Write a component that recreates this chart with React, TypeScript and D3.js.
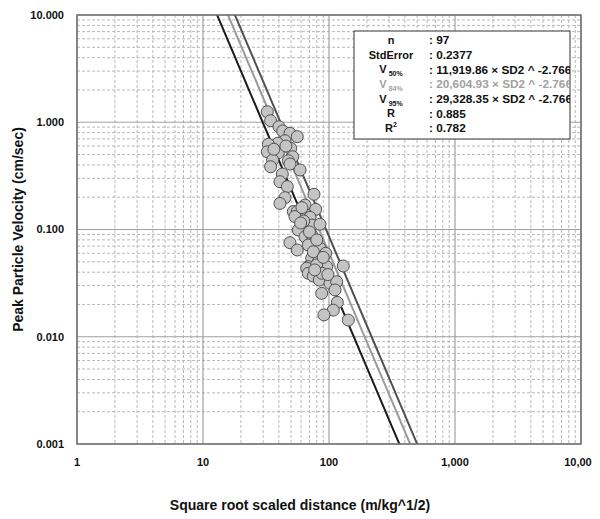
import React from "react";
import * as d3 from "d3";

const sdValues = [32.4, 34.4, 40.1, 42.9, 49.0, 56.0, 44.7, 39.2, 33.0, 49.7, 32.4, 39.6, 51.5, 35.7, 47.5, 49.0, 34.4, 58.9, 42.6, 40.8, 46.7, 44.7, 40.8, 76.0, 64.5, 78.4, 52.1, 56.0, 66.5, 53.7, 70.7, 72.9, 84.8, 57.1, 64.5, 72.9, 49.0, 77.4, 68.5, 56.0, 84.8, 94.2, 72.9, 82.2, 68.5, 95.9, 129.8, 75.0, 66.5, 79.8, 68.5, 75.0, 83.8, 87.5, 101.9, 115.1, 111.6, 87.5, 116.4, 108.2, 91.2, 142.3, 45.5, 61.0, 70.0, 80.0, 90.0, 63.0, 77.0, 98.0, 36.5, 59.5];
const ppvValues = [1.254, 1.034, 0.909, 0.829, 0.789, 0.733, 0.673, 0.637, 0.623, 0.571, 0.531, 0.520, 0.477, 0.445, 0.438, 0.408, 0.385, 0.359, 0.329, 0.279, 0.251, 0.198, 0.175, 0.213, 0.169, 0.154, 0.147, 0.147, 0.136, 0.132, 0.130, 0.110, 0.112, 0.0989, 0.0857, 0.0889, 0.0754, 0.0769, 0.0717, 0.0644, 0.0668, 0.0600, 0.0539, 0.0501, 0.0450, 0.0450, 0.0457, 0.0621, 0.0435, 0.0467, 0.0391, 0.0368, 0.0338, 0.0391, 0.0315, 0.0326, 0.0273, 0.0254, 0.0209, 0.0177, 0.0160, 0.0143, 0.600, 0.160, 0.095, 0.080, 0.055, 0.120, 0.042, 0.038, 0.560, 0.115];

const lineNames = ["V50", "V84", "V95"];
const lineCoefs = [11919.86, 20604.93, 29328.35];
const lineExponent = -2.766;
const lineColors = ["#1a1a1a", "#9a9a9a", "#505050"];

const xTicks = [1, 10, 100, 1000, 10000];
const xTickLabels = ["1", "10", "100", "1,000", "10,000"];
const yTicks = [0.001, 0.01, 0.1, 1, 10];
const yTickLabels = ["0.001", "0.010", "0.100", "1.000", "10.000"];

const statLabels = ["n", "StdError", "V", "V", "V", "R", "R"];
const statSubs = ["", "", "50%", "84%", "95%", "", ""];
const statSups = ["", "", "", "", "", "", "2"];
const statValues = [": 97", ": 0.2377", ": 11,919.86 × SD2 ^ -2.766", ": 20,604.93 × SD2 ^ -2.766", ": 29,328.35 × SD2 ^ -2.766", ": 0.885", ": 0.782"];
const statColors = ["#111", "#111", "#111", "#a0a0a0", "#111", "#111", "#111"];

const FONT = "'Liberation Sans', Arial, sans-serif";

export default function App() {
  const W = 600, H = 519;
  const L = 77, R = 581, T = 15, B = 444;
  const x = d3.scaleLog().domain([1, 10000]).range([L, R]);
  const y = d3.scaleLog().domain([0.001, 10]).range([B, T]);

  const minorX: number[] = [];
  for (let d = 1; d < 10000; d *= 10) for (let k = 2; k <= 9; k++) minorX.push(d * k);
  const minorY: number[] = [];
  for (let d = 0.001; d < 9; d *= 10) for (let k = 2; k <= 9; k++) minorY.push(d * k);

  const sdSamples = d3.range(0, 101).map((i) => Math.pow(10, (i / 100) * 4));

  const points = sdValues.map((s, i) => ({ s, v: ppvValues[i] }));

  const legX = 354, legY = 31, legW = 216, legH = 108;
  const rowY0 = 40, rowStep = 14.7;

  return (
    <svg width={W} height={H} style={{ display: "block", margin: "-8px 0 0 -8px", fontFamily: FONT }}>
      <defs>
        <clipPath id="plotClip">
          <rect x={L} y={T} width={R - L} height={B - T} />
        </clipPath>
        <clipPath id="legClip">
          <rect x={legX} y={legY} width={legW} height={legH} />
        </clipPath>
      </defs>
      <rect x={0} y={0} width={W} height={H} fill="#fff" />
      {minorX.map((v, i) => (
        <line key={"mx" + i} x1={x(v)} x2={x(v)} y1={T} y2={B} stroke="#b8b8b8" strokeWidth={1} strokeDasharray="3,2" />
      ))}
      {minorY.map((v, i) => (
        <line key={"my" + i} x1={L} x2={R} y1={y(v)} y2={y(v)} stroke="#b8b8b8" strokeWidth={1} strokeDasharray="3,2" />
      ))}
      {xTicks.map((v, i) => (
        <line key={"gx" + i} x1={x(v)} x2={x(v)} y1={T} y2={B} stroke="#a0a0a0" strokeWidth={1.2} />
      ))}
      {yTicks.map((v, i) => (
        <line key={"gy" + i} x1={L} x2={R} y1={y(v)} y2={y(v)} stroke="#a0a0a0" strokeWidth={1.2} />
      ))}
      <g clipPath="url(#plotClip)">
        {lineCoefs.map((c, i) => {
          const gen = d3.line<number>().x((s) => x(s)).y((s) => y(c * Math.pow(s, lineExponent)));
          return <path key={lineNames[i]} d={gen(sdSamples) || ""} fill="none" stroke={lineColors[i]} strokeWidth={2} />;
        })}
        {points.map((p, i) => (
          <circle key={"p" + i} cx={x(p.s)} cy={y(p.v)} r={6} fill="#c4c4c4" stroke="#505050" strokeWidth={1} />
        ))}
      </g>
      <rect x={L} y={T} width={R - L} height={B - T} fill="none" stroke="#707070" strokeWidth={1.5} />
      {yTicks.map((v, i) => (
        <text key={"yl" + i} x={64} y={y(v)} dy="0.35em" textAnchor="end" fontSize={11} fontWeight="bold" fill="#111">
          {yTickLabels[i]}
        </text>
      ))}
      {xTicks.map((v, i) => (
        <text key={"xl" + i} x={x(v)} y={466} textAnchor="middle" fontSize={11} fontWeight="bold" fill="#111">
          {xTickLabels[i]}
        </text>
      ))}
      <text x={300} y={510} textAnchor="middle" fontSize={14} fontWeight="bold" fill="#111">
        Square root scaled distance (m/kg^1/2)
      </text>
      <text transform={`translate(23,${(T + B) / 2}) rotate(-90)`} textAnchor="middle" fontSize={14} fontWeight="bold" fill="#111">
        Peak Particle Velocity (cm/sec)
      </text>
      <rect x={legX} y={legY} width={legW} height={legH} fill="#fff" stroke="#333" strokeWidth={1} />
      <g clipPath="url(#legClip)">
        {statLabels.map((lab, i) => {
          const cy = rowY0 + i * rowStep;
          return (
            <g key={"st" + i} fill={statColors[i]} fontWeight="bold">
              <text x={391} y={cy} dy="0.35em" textAnchor="middle" fontSize={11}>
                {lab}
                {statSubs[i] ? <tspan fontSize={7} dy="3">{" " + statSubs[i]}</tspan> : null}
                {statSups[i] ? <tspan fontSize={7} dy="-5">{statSups[i]}</tspan> : null}
              </text>
              <text x={429} y={cy} dy="0.35em" fontSize={11.8}>
                {statValues[i]}
              </text>
            </g>
          );
        })}
      </g>
    </svg>
  );
}
